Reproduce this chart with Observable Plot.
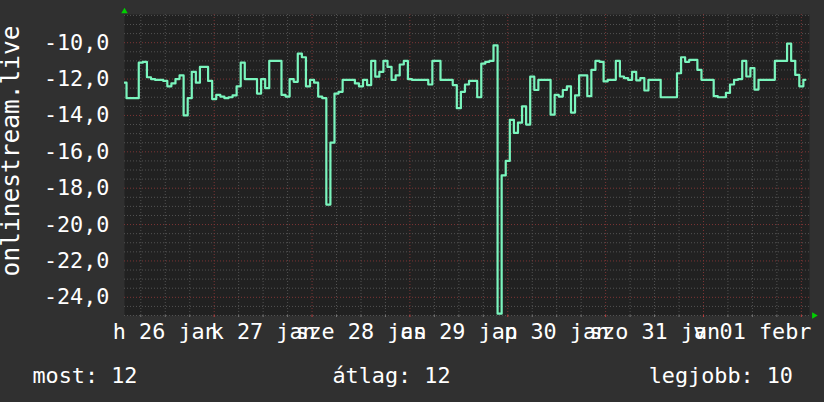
<!DOCTYPE html>
<html><head><meta charset="utf-8">
<script src="https://cdn.jsdelivr.net/npm/d3@7"></script>
<script src="https://cdn.jsdelivr.net/npm/@observablehq/plot@0.6"></script>
<style>
html,body{margin:0;padding:0;background:#303030;}
#chart{width:824px;height:402px;}
</style></head><body><div id="chart"></div>
<script>
// ---- data ----
const startTime = Date.UTC(2015, 0, 26, 2, 0);   // first sample (local time shown as UTC)
const endTime = Date.UTC(2015, 1, 2, 2, 0);
const stepMs = 3600e3; // hourly samples
const values = [
  -12.2, -13.05, -13.05, -13.05, -11.1, -11.05, -11.9, -12.0, -12.05, -12.05, -12.1, -12.4,
  -12.24, -12.0, -11.8, -14.0, -13.05, -11.6, -12.2, -11.33, -11.33, -12.1, -13.1, -12.87,
  -12.96, -13.05, -13.0, -12.9, -12.4, -11.1, -12.0, -12.0, -12.0, -12.8, -12.0, -12.5,
  -11.0, -11.0, -11.0, -12.87, -12.96, -12.0, -12.15, -10.6, -10.8, -12.4, -12.05, -12.2,
  -12.96, -13.05, -18.9, -15.5, -12.8, -12.7, -12.05, -12.05, -12.05, -12.24, -12.4, -12.05,
  -12.33, -11.0, -11.87, -11.6, -11.0, -11.33, -12.05, -11.8, -11.2, -11.0, -12.0, -12.05,
  -12.05, -12.05, -12.05, -12.3, -11.0, -11.0, -12.05, -12.05, -12.05, -12.33, -13.6, -12.7,
  -12.3, -12.1, -12.1, -13.0, -11.15, -11.05, -11.0, -10.15, -24.9, -17.3, -16.5, -14.24,
  -14.96, -14.4, -13.5, -14.5, -11.87, -12.6, -12.05, -12.05, -12.05, -13.96, -12.87, -12.96,
  -12.6, -12.4, -13.84, -12.9, -11.8, -11.8, -12.94, -11.5, -11.0, -11.05, -12.13, -12.04,
  -12.04, -11.0, -11.86, -11.95, -12.04, -11.6, -12.07, -11.95, -12.63, -12.04, -12.04, -12.04,
  -13.0, -13.0, -13.0, -13.0, -11.68, -10.8, -11.05, -10.95, -10.95, -11.5, -12.04, -12.04,
  -12.04, -12.94, -13.0, -13.0, -12.76, -12.3, -12.04, -12.0, -11.0, -11.86, -11.4, -12.58,
  -12.04, -12.04, -12.04, -12.04, -11.0, -11.0, -11.0, -10.05, -11.0, -11.77, -12.4, -12.04
];
const dayNames = ["h", "k", "sze", "cs", "p", "szo", "v"];
const dayNums = ["26", "27", "28", "29", "30", "31", "01"];
const monthNames = ["jan", "jan", "jan", "jan", "jan", "jan", "febr"];
const yTicks = [-10, -12, -14, -16, -18, -20, -22, -24];
const yDomain = [-25, -8.45];
const yTitle = "onlinestream.live";
const legendLabels = ["most", "átlag", "legjobb"];
const legendValues = [12, 12, 10];

// ---- derived tables ----
const series = values.map((v, i) => ({t: new Date(startTime + i * stepMs), v}));
const dayNoons = dayNums.map((_, i) => new Date(Date.UTC(2015, 0, 26 + i, 12)));
const labelByTime = new Map(dayNoons.map((d, i) => [+d, `${dayNames[i]} ${dayNums[i]} ${monthNames[i]}`]));
const xMajor = d3.utcDay.range(new Date(startTime), new Date(endTime));
const xMinor = d3.utcHour.every(6).range(new Date(startTime), new Date(endTime)).filter(d => d.getUTCHours() !== 0);
const yMinor = d3.range(-25, -8.4, 0.5).filter(v => !yTicks.includes(v));
const legendTexts = legendLabels.map((l, i) => `${l}: ${legendValues[i]}`);

const gridMinor = "#525252", gridMajor = "#7d3535";

const chart = Plot.plot({
  width: 824, height: 402,
  marginLeft: 124, marginRight: 15, marginTop: 14, marginBottom: 87,
  style: {background: "#303030", color: "#ffffff", fontFamily: "'DejaVu Sans Mono', monospace", fontSize: "21.8px", overflow: "visible"},
  x: {type: "utc", domain: [new Date(startTime), new Date(endTime)]},
  y: {domain: yDomain},
  marks: [
    Plot.frame({fill: "#212121", stroke: null}),
    Plot.ruleY(yMinor, {stroke: gridMinor, strokeDasharray: "1,2"}),
    Plot.ruleX(xMinor, {stroke: gridMinor, strokeDasharray: "1,2"}),
    Plot.ruleY(yTicks, {stroke: gridMajor, strokeDasharray: "1,2"}),
    Plot.ruleX(xMajor, {stroke: gridMajor, strokeDasharray: "1,2"}),
    Plot.axisX({ticks: xMinor, tickSize: 2, stroke: "#777", tickFormat: () => "", label: null}),
    Plot.axisX({ticks: xMajor, tickSize: 2, stroke: "#c04040", tickFormat: () => "", label: null}),
    Plot.axisY({ticks: yTicks, tickSize: 0, tickPadding: 15, tickFormat: d => d.toFixed(1).replace(".", ","), label: null, fill: "#ffffff"}),
    Plot.axisX({ticks: dayNoons, tickSize: 0, tickPadding: 8, tickFormat: d => labelByTime.get(+d), label: null, fill: "#ffffff"}),
    Plot.lineY(series, {x: "t", y: "v", curve: "step", stroke: "#7af5bd", strokeWidth: 2.2, clip: true}),
    Plot.dot([{t: new Date(startTime), v: yDomain[1]}], {x: "t", y: "v", symbol: "triangle", r: 2.4, fill: "#00d000", stroke: null, dy: -3}),
    Plot.dot([{t: new Date(endTime), v: yDomain[0]}], {x: "t", y: "v", symbol: "triangle", r: 2.4, fill: "#00d000", stroke: null, dx: 4.5, rotate: 90}),
    Plot.text([yTitle], {frameAnchor: "left", textAnchor: "middle", rotate: -90, lineAnchor: "bottom", dx: -105.5, dy: -14, fontSize: 24.5, fill: "#ffffff"}),
    Plot.text([legendTexts[0]], {frameAnchor: "bottom-left", textAnchor: "start", lineAnchor: "bottom", dx: -92, dy: 67, fill: "#ffffff"}),
    Plot.text([legendTexts[1]], {frameAnchor: "bottom-left", textAnchor: "start", lineAnchor: "bottom", dx: 208, dy: 67, fill: "#ffffff"}),
    Plot.text([legendTexts[2]], {frameAnchor: "bottom-right", textAnchor: "end", lineAnchor: "bottom", dx: -16.5, dy: 67, fill: "#ffffff"})
  ]
});
document.getElementById("chart").appendChild(chart);
</script>
</body></html>
